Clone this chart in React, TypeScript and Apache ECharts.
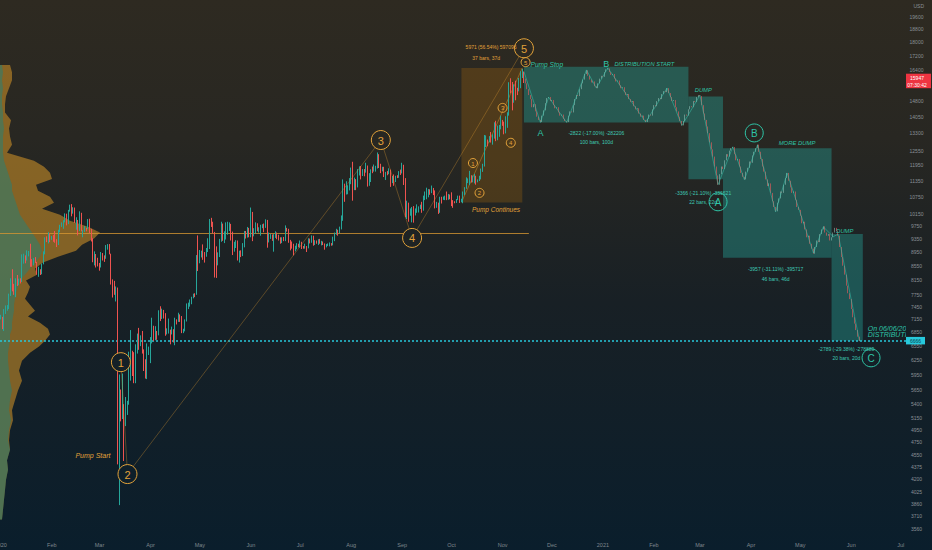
import React, { useEffect, useRef } from "react";
import * as echarts from "echarts";

// ---------- real daily candles [close, low, high]; open = previous close ----------
const openingPrice = 7190;
const jan2020 = [[7200,7150,7260],[6985,6920,7210],[7345,6880,7400],[7410,7280,7490],[7410,7360,7500],[7770,7400,7790],[8160,7730,8200],[8045,7850,8450],[7820,7760,8050],[8200,7700,8200],[8020,7990,8290],[8180,8010,8190],[8110,8060,8200],[8810,8100,8880],[8820,8610,8900],[8720,8620,8850],[8910,8700,9000],[8920,8820,8980],[8710,8520,9200],[8660,8520,8740],[8750,8560,8770],[8660,8630,8800],[8390,8300,8660],[8440,8240,8520],[8340,8290,8450],[8600,8310,8610],[8900,8590,8970],[9390,8880,9400],[9290,9250,9430],[9510,9210,9560],[9350,9250,9530]];
const feb2020 = [[9390,9320,9440],[9340,9260,9470],[9290,9230,9600],[9180,9100,9340],[9620,9160,9640],[9750,9560,9800],[9810,9730,9880],[9910,9670,9950],[10170,9880,10180],[9860,9780,10170],[10270,9820,10300],[10360,10240,10480],[10240,10080,10500],[10370,10170,10390],[9900,9860,10380],[9930,9640,10050],[9700,9460,9960],[10180,9600,10250],[9600,9590,10200],[9610,9400,9630],[9690,9570,9760],[9670,9590,9700],[9970,9660,9990],[9660,9530,10000],[9320,9270,9670],[8790,8650,9370],[8790,8560,8970],[8670,8500,8890],[8540,8530,8780]];
const mar2020 = [[8530,8410,8630],[8920,8500,8950],[8760,8700,8920],[8750,8660,8850],[9080,8760,9160],[9150,9020,9190],[8890,8880,9190],[8040,8030,8900],[7930,7690,8170],[7910,7760,8130],[7910,7590,7980],[4970,4410,7950],[5560,3850,5950],[5200,5090,5660],[5390,5130,5970],[5010,4460,5380],[5330,5010,5520],[5400,5200,5450],[6190,5380,6420],[6200,5830,6900],[6190,5920,6440],[5830,5780,6410],[6420,5780,6580],[6740,6380,6820],[6680,6460,6950],[6730,6540,6780],[6470,6380,6880],[6240,6020,6290],[5880,5870,6260],[6390,5860,6600],[6440,6350,6530]];
const apr2020 = [[6640,6180,6740],[6800,6600,7190],[6740,6650,7000],[6860,6670,6990],[6780,6680,6880],[7340,6780,7370],[7200,7110,7470],[7370,7160,7410],[7300,7170,7380],[6860,6770,7300],[6890,6800,6940],[6910,6820,7170],[6860,6580,6910],[6880,6800,6980],[6640,6620,6920],[7120,6560,7190],[7100,7030,7150],[7260,7090,7310],[7130,7090,7270],[6860,6830,7230],[6880,6830,6930],[7120,6870,7150],[7480,7100,7540],[7510,7400,7560],[7540,7460,7640],[7700,7520,7710],[7790,7670,7790],[7760,7700,7800],[8780,7760,8860],[8620,8400,9460]];
const may2020 = [[8830,8620,9010],[8970,8790,8990],[8900,8720,9180],[8880,8640,8950],[9030,8810,9070],[9150,8950,9370],[9990,9040,9990],[9810,9730,10030],[9540,9520,9900],[8730,8220,9570],[8560,8210,9120],[8820,8560,8940],[9310,8800,9350],[9790,9260,9900],[9320,9290,9840],[9380,9220,9590],[9680,9330,9880],[9730,9480,9900],[9780,9600,9880],[9520,9300,9830],[9080,8860,9580],[9170,8960,9260],[9180,9070,9310],[8720,8700,9300],[8900,8640,8990],[8840,8800,9000],[9200,8830,9220],[9580,9090,9600],[9430,9360,9600],[9700,9390,9730],[9450,9400,9700]];
const jun2020 = [[10200,9400,10380],[9520,9280,10230],[9660,9430,9690],[9790,9520,9880],[9620,9590,9850],[9670,9550,9720],[9750,9450,9800],[9780,9690,9820],[9770,9560,9840],[9880,9700,9980],[9270,9080,9960],[9470,9240,9550],[9480,9350,9500],[9390,9290,9490],[9430,8960,9500],[9520,9380,9590],[9460,9340,9550],[9380,9300,9480],[9300,9200,9400],[9360,9220,9400],[9290,9280,9410],[9690,9280,9780],[9630,9580,9700],[9300,9230,9670],[9250,9000,9320],[9160,9050,9270],[9010,8850,9200],[9120,8970,9140],[9190,9030,9220],[9140,9090,9200]];
const jul2020 = [[9230,9080,9300],[9090,9040,9260],[9060,9050,9130],[9130,9050,9200],[9080,8950,9130],[9340,9060,9370],[9250,9210,9360],[9430,9230,9460],[9240,9140,9450],[9290,9160,9310],[9240,9200,9300],[9300,9160,9340],[9240,9200,9350],[9250,9150,9290],[9200,9160,9270],[9130,9020,9210],[9150,9090,9190],[9170,9130,9210],[9210,9120,9240],[9160,9140,9220],[9390,9150,9420],[9540,9280,9550],[9610,9480,9670],[9550,9450,9640],[9710,9530,9740],[9930,9650,10110],[11030,9930,11400],[10940,10580,11240],[11100,10840,11330],[11110,10850,11180],[11350,10990,11450]];
const aug2020 = [[11800,11220,11860],[11070,10620,12090],[11230,11000,11470],[11190,11000,11410],[11750,11100,11800],[11770,11550,11910],[11600,11400,11920],[11760,11530,11800],[11680,11520,11800],[11880,11660,12050],[11400,11130,11940],[11580,11160,11640],[11780,11300,11790],[11770,11640,11900],[11870,11700,11980],[11910,11700,11930],[12300,11820,12470],[11950,11840,12400],[11760,11640,12010],[11870,11710,11890],[11520,11490,11890],[11680,11380,11690],[11650,11560,11720],[11770,11600,11830],[11350,11120,11780],[11470,11260,11530],[11330,11160,11590],[11530,11300,11540],[11470,11450,11560],[11710,11460,11720],[11680,11570,11780]];
const sep2020 = [[11970,11630,12050],[11410,11190,11970],[10170,10050,11450],[10470,9990,10620],[10170,9900,10550],[10270,10100,10350],[10370,9880,10400],[10130,9870,10430],[10230,10110,10350],[10370,10200,10490],[10400,10210,10420],[10440,10330,10480],[10330,10200,10580],[10680,10270,10800],[10790,10640,10950],[10950,10670,11090],[10950,10740,11040],[10930,10830,11030],[11080,10890,11170],[10920,10820,11050],[10420,10350,10990],[10540,10370,10580],[10240,10160,10550],[10740,10200,10760],[10690,10520,10760],[10730,10650,10770],[10770,10640,10800],[10690,10640,10950],[10840,10650,10860],[10780,10670,10840]];
const oct2020 = [[10620,10430,10920],[10570,10370,10640],[10550,10530,10600],[10670,10540,10680],[10790,10640,10800],[10600,10540,10800],[10670,10570,10690],[10920,10530,10950],[11060,10820,11110],[11300,11050,11480],[11380,11260,11440],[11540,11190,11730],[11430,11280,11560],[11430,11290,11550],[11500,11250,11610],[11320,11200,11540],[11370,11290,11400],[11510,11340,11540],[11750,11400,11820],[11920,11690,12010],[12820,11900,13220],[12970,12700,13200],[12930,12730,13020],[13130,12900,13170],[13030,12890,13350],[13070,12800,13250],[13650,13060,13790],[13270,12950,13860],[13460,12990,13640],[13560,13140,13670],[13800,13470,14100]];
const nov2020 = [[13760,13630,13900],[13550,13250,13820],[14030,13290,14070],[14160,13540,14260],[15590,14100,15760],[15580,15190,15970],[14840,14350,15770],[15480,14720,15650],[15330,14840,15840],[15300,15100,15470],[15700,15290,15990],[16300,15450,16350],[16330,15980,16480],[15950,15720,16330]];
const realMonths: [number, number, number[][]][] = [
  [2020, 1, jan2020], [2020, 2, feb2020], [2020, 3, mar2020], [2020, 4, apr2020],
  [2020, 5, may2020], [2020, 6, jun2020], [2020, 7, jul2020], [2020, 8, aug2020],
  [2020, 9, sep2020], [2020, 10, oct2020], [2020, 11, nov2020],
];

// ---------- projected ("ghost") daily closes ----------
const projNov2020 = [15700,15400,15100,14900,14500,14650,14300,14050,13900,13800,14100,14350,14700,14950,15000,14800];
const projDec2020 = [14850,14600,14450,14500,14250,14100,14150,13950,13850,13800,14100,14300,14250,14600,14900,15100,15050,15400,15700,15900,16200,16400,16100,15900,15750,15800,15550,15450,15700,15950,16100];
const projJan2021 = [16050,16300,16450,16500,16300,16150,16200,15950,15800,15850,15600,15450,15500,15250,15100,15150,14900,14750,14800,14550,14400,14450,14200,14050,14100,13900,13800,13950,14150,14100,14400];
const projFeb2021 = [14600,14550,14800,14950,14900,15150,15300,15250,15450,15200,15000,14800,14850,14500,14300,14050,13850,13650,13850,14150,14100,14400,14550,14500,14800,14750,15000,15100];
const projMar2021 = [15050,14600,14200,13900,13600,13300,12900,12600,12300,11900,11550,11200,11600,11900,11800,12150,12400,12300,12550,12650,12700,12400,12150,12200,11900,11650,11500,11400,11700,11850,12100];
const projApr2021 = [12050,12350,12500,12650,12800,12500,12200,11900,11700,11400,11150,11250,10900,10600,10400,10250,10550,10700,10950,10900,11200,11450,11650,11350,11100,10900,10950,10650,10400,10300];
const projMay2021 = [10100,9850,9900,9650,9400,9450,9200,9050,8900,9100,9300,9250,9500,9650,9750,9550,9450,9500,9300,9400,9550,9700,9600,9450,9100,8800,8550,8300,8000,7800,7650];
const projJun2021 = [7400,7200,7050,6900,6750,6650];
const projMonths: [number, number, number, number[]][] = [
  [2020, 11, 15, projNov2020], [2020, 12, 1, projDec2020], [2021, 1, 1, projJan2021],
  [2021, 2, 1, projFeb2021], [2021, 3, 1, projMar2021], [2021, 4, 1, projApr2021],
  [2021, 5, 1, projMay2021], [2021, 6, 1, projJun2021],
];

// ---------- price scale ----------
const priceTicks = [19600,18800,18000,17200,16400,14800,14050,13300,12550,11950,11350,10750,10150,9750,9350,8950,8550,8150,7750,7450,7150,6850,6550,6250,5950,5650,5400,5150,4950,4750,4550,4375,4200,4025,3860,3710,3560];
const currencyLabel = "USD";
const lastPrice = 15947;
const lastPriceTimer = "07:30:42";
const markPrice = 6666;

// ---------- drawings ----------
const hLevelPrice = 9520;
const hLevelEnd = "2020-11-17";

const waveLabels = ["1", "2", "3", "4", "5"];
const waveDates = ["2020-03-14", "2020-03-18", "2020-08-19", "2020-09-07", "2020-11-14"];
const wavePrices = [6200, 4270, 13000, 9380, 17650];

const subWaveLabels = ["1", "2", "3", "4", "5"];
const subWaveDates = ["2020-10-14", "2020-10-18", "2020-11-01", "2020-11-06", "2020-11-15"];
const subWavePrices = [12040, 10900, 14470, 12880, 16850];

const abcLabels = ["A", "B", "C"];
const abcDates = ["2021-03-12", "2021-04-03", "2021-06-13"];
const abcPrices = [10580, 13310, 6290];

const letterLabels = ["A", "B"];
const letterDates = ["2020-11-24", "2021-01-03"];
const letterPrices = [13310, 16740];

const pathDates = ["2020-11-14","2020-11-24","2020-11-29","2020-12-10","2020-12-22","2020-12-28","2021-01-04","2021-01-27","2021-02-09","2021-02-18","2021-03-01","2021-03-12","2021-03-21","2021-03-28","2021-04-05","2021-04-16","2021-04-23","2021-05-09","2021-05-15","2021-05-21","2021-05-24","2021-06-06"];
const pathPrices = [16330,13780,14990,13780,16420,15460,16530,13800,15460,13640,15090,11200,12710,11390,12790,10230,11640,8920,9730,9420,9500,6650];

const boxStart = ["2020-10-07", "2020-11-14", "2021-02-22", "2021-03-15", "2021-05-20"];
const boxEnd = ["2020-11-13", "2021-02-22", "2021-03-15", "2021-05-20", "2021-06-08"];
const boxLow = [10560, 13780, 11410, 8780, 6660];
const boxHigh = [16531, 16600, 15030, 12650, 9500];

const annoTexts = ["Pump Start", "Pump Continues", "Pump Stop", "DISTRIBUTION START", "DUMP", "MORE DUMP", "DUMP", "On 06/06/2021", "DISTRIBUTION"];
const annoDates = ["2020-02-26", "2020-10-28", "2020-11-18", "2021-01-08", "2021-03-03", "2021-04-29", "2021-05-28", "2021-06-11", "2021-06-11"];
const annoPrices = [4540, 10300, 16740, 16740, 15360, 12880, 9610, 6930, 6790];

const measureTexts = ["5971 (56.54%) 597096", "37 bars, 37d", "-2822 (-17.00%) -282206", "100 bars, 100d", "-3366 (-21.10%) -336621", "22 bars, 22d", "-3957 (-31.11%) -395717", "46 bars, 46d", "-2789 (-29.38%) -278889", "20 bars, 20d"];
const measureDates = ["2020-10-25", "2020-10-22", "2020-12-28", "2020-12-28", "2021-03-03", "2021-03-03", "2021-04-16", "2021-04-16", "2021-05-29", "2021-05-29"];
const measurePrices = [17700, 17060, 13310, 12920, 10900, 10580, 8450, 8180, 6470, 6290];

// ---------- volume profile (price row, teal part, orange part) ----------
const profilePrices = [16690,16300,15870,15450,15040,14640,14250,13880,13510,13150,12800,12460,12130,11890,11660,11420,11200,10980,10760,10550,10340,10130,9930,9740,9550,9360,9170,8990,8810,8640,8470,8300,8140,7970,7820,7660,7510,7360,7220,7070,6930,6800,6660,6530,6400,6230,6030,5830,5640,5460,5280,5110,4940,4780,4630,4470,4330,4190,4050,3920,3790,3670];
const profileTeal = [2,3,2,3,2,2,3,3,4,3,3,3,4,6,8,10,12,12,14,16,18,20,24,28,32,36,40,42,40,35,30,25,20,18,16,15,14,14,13,12,12,10,10,9,8,8,9,10,12,10,9,11,9,8,10,7,8,6,5,4,3,2];
const profileOrange = [8,9,10,6,4,3,2,8,5,7,9,4,30,38,42,42,24,26,36,38,24,40,46,60,68,58,42,34,18,8,5,12,6,12,12,10,16,21,15,28,36,40,35,30,22,14,10,12,6,5,3,2,1,1,0,0,0,0,0,0,0,0];

// ---------- styling ----------
const FONT = "'Liberation Sans', Arial, sans-serif";
const ORANGE = "#e2a23a";
const TEAL = "#2ec4a6";
const UP = "#26a69a";
const DOWN = "#ef5350";
const BG_STOPS: [number, number[]][] = [[0, [46, 42, 33]], [0.25, [40, 39, 34]], [0.55, [24, 32, 37]], [1, [10, 30, 44]]];

function bgAt(y: number, h: number): string {
  const t = Math.max(0, Math.min(1, y / h));
  for (let i = 0; i < BG_STOPS.length - 1; i++) {
    const [a, ca] = BG_STOPS[i];
    const [b, cb] = BG_STOPS[i + 1];
    if (t >= a && t <= b) {
      const k = (t - a) / (b - a);
      const c = ca.map((v, j) => Math.round(v + (cb[j] - v) * k));
      return `rgb(${c[0]},${c[1]},${c[2]})`;
    }
  }
  return "rgb(10,30,44)";
}
const cssBg = `linear-gradient(to bottom, ${BG_STOPS.map(([p, c]) => `rgb(${c.join(",")}) ${p * 100}%`).join(", ")})`;

const ts = (s: string) => {
  const [y, m, d] = s.split("-").map(Number);
  return new Date(y, m - 1, d).getTime();
};

function buildReal() {
  const out: number[][] = [];
  let prev = openingPrice;
  realMonths.forEach(([y, m, rows]) => {
    rows.forEach((r, i) => {
      const [c, l, h] = r;
      out.push([new Date(y, m - 1, i + 1).getTime(), prev, c, Math.min(l, prev, c), Math.max(h, prev, c)]);
      prev = c;
    });
  });
  return out;
}

function buildProjection(startOpen: number) {
  const out: number[][] = [];
  let prev = startOpen;
  projMonths.forEach(([y, m, d0, closes]) => {
    closes.forEach((c, i) => {
      out.push([new Date(y, m - 1, d0 + i).getTime(), prev, c, Math.min(prev, c), Math.max(prev, c)]);
      prev = c;
    });
  });
  return out;
}

const X_MIN = new Date(2019, 11, 31, 12).getTime();
const X_MAX = new Date(2021, 6, 4, 6).getTime();

function circleSeries(labels: string[], dates: string[], prices: number[], r: number, fs: number, color: string, filled: boolean) {
  return {
    type: "custom",
    xAxisIndex: 0,
    yAxisIndex: 0,
    z: 10,
    silent: true,
    encode: { x: 0, y: 1 },
    data: dates.map((d, i) => [ts(d), prices[i]]),
    renderItem: (params: any, api: any) => {
      const p = api.coord([api.value(0), api.value(1)]);
      return {
        type: "group",
        children: [
          { type: "circle", shape: { cx: p[0], cy: p[1], r }, style: { fill: filled ? bgAt(p[1], api.getHeight()) : "rgba(0,0,0,0)", stroke: color, lineWidth: 1 } },
          { type: "text", x: p[0], y: p[1] + 0.5, style: { text: labels[params.dataIndex], fill: color, fontSize: fs, fontFamily: FONT, align: "center", verticalAlign: "middle" } },
        ],
      };
    },
  };
}

const annoStyle = [
  { color: ORANGE, size: 7, align: "center" },
  { color: ORANGE, size: 6.5, align: "center" },
  { color: TEAL, size: 6.6, align: "left" },
  { color: TEAL, size: 5.7, align: "left" },
  { color: TEAL, size: 5.8, align: "center" },
  { color: TEAL, size: 5.9, align: "center" },
  { color: TEAL, size: 5.8, align: "center" },
  { color: TEAL, size: 7, align: "left" },
  { color: TEAL, size: 7, align: "left" },
];

export default function App() {
  const ref = useRef<HTMLDivElement>(null);
  useEffect(() => {
    if (!ref.current) return;
    const chart = echarts.init(ref.current, undefined, { renderer: "svg" });
    const real = buildReal();
    const proj = buildProjection(real[real.length - 1][2]);

    const option: any = {
      animation: false,
      backgroundColor: "transparent",
      grid: { left: 0, right: 26, top: 0, bottom: 13, containLabel: false, outerBoundsMode: "none" },
      xAxis: [
        {
          type: "time",
          min: X_MIN,
          max: X_MAX,
          splitNumber: 18,
          minInterval: 28 * 86400000,
          maxInterval: 31 * 86400000,
          axisLine: { show: false },
          axisTick: { show: false },
          splitLine: { show: false },
          axisLabel: {
            color: "#7f878d",
            fontSize: 5.5,
            fontFamily: FONT,
            margin: 5,
            hideOverlap: false,
            formatter: { year: "{yyyy}", month: "{MMM}", day: "" },
          },
        },
        { type: "value", min: 0, max: 906, show: false },
      ],
      yAxis: [
        { type: "log", min: 3462, max: 20730, show: false, splitLine: { show: false } },
      ],
      series: [
        // volume profile
        {
          type: "custom",
          xAxisIndex: 1,
          yAxisIndex: 0,
          z: 1,
          silent: true,
          encode: { x: 0, y: 1 },
          data: [[0, profilePrices[0]]],
          renderItem: (params: any, api: any) => {
            const top = profilePrices[0];
            const bottom = profilePrices[profilePrices.length - 1];
            const orangePts = [api.coord([0, top])]
              .concat(profilePrices.map((p, i) => api.coord([profileTeal[i] + profileOrange[i], p])))
              .concat([api.coord([0, bottom])]);
            const tealPts = [api.coord([0, top])]
              .concat(profilePrices.map((p, i) => api.coord([profileTeal[i], p])))
              .concat([api.coord([0, bottom])]);
            return {
              type: "group",
              children: [
                { type: "polygon", shape: { points: orangePts }, style: { fill: "rgba(205,145,40,0.58)" } },
                { type: "polygon", shape: { points: tealPts }, style: { fill: "rgba(34,130,122,0.5)" } },
              ],
            };
          },
        },
        // boxes
        {
          type: "custom",
          xAxisIndex: 0,
          yAxisIndex: 0,
          z: 2,
          silent: true,
          encode: { x: [0, 2], y: [1, 3] },
          data: boxStart.map((s, i) => [ts(s), boxLow[i], ts(boxEnd[i]), boxHigh[i]]),
          renderItem: (params: any, api: any) => {
            const a = api.coord([api.value(0), api.value(3)]);
            const b = api.coord([api.value(2), api.value(1)]);
            const i = params.dataIndex;
            return {
              type: "rect",
              shape: { x: a[0], y: a[1], width: b[0] - a[0], height: b[1] - a[1] },
              style: { fill: i === 0 ? "rgba(255,152,0,0.18)" : "rgba(38,166,154,0.40)" },
            };
          },
        },
        // horizontal level
        {
          type: "line",
          z: 3,
          silent: true,
          showSymbol: false,
          data: [[X_MIN, hLevelPrice], [ts(hLevelEnd), hLevelPrice]],
          lineStyle: { color: "rgba(214,150,50,0.8)", width: 1 },
        },
        // pump box diagonal
        {
          type: "line",
          z: 3,
          silent: true,
          showSymbol: false,
          data: [[ts(boxStart[0]), boxLow[0]], [ts(boxEnd[0]), boxHigh[0]]],
          lineStyle: { color: "rgba(214,150,50,0.45)", width: 1 },
        },
        // real candles
        {
          type: "candlestick",
          z: 5,
          silent: true,
          barWidth: 1,
          encode: { x: 0, y: [1, 2, 3, 4] },
          data: real,
          itemStyle: { color: UP, color0: DOWN, borderColor: UP, borderColor0: DOWN, borderWidth: 1 },
          markLine: {
            silent: true,
            symbol: "none",
            label: { show: false },
            lineStyle: { color: "#29c7da", type: [2, 2], width: 1.5 },
            data: [{ yAxis: markPrice }],
          },
        },
        // projected candles
        {
          type: "candlestick",
          z: 5,
          silent: true,
          barWidth: 1,
          encode: { x: 0, y: [1, 2, 3, 4] },
          data: proj,
          itemStyle: {
            color: "rgba(150,200,190,0.55)",
            color0: "rgba(226,90,90,0.65)",
            borderColor: "rgba(150,200,190,0.55)",
            borderColor0: "rgba(226,90,90,0.65)",
            borderWidth: 1,
          },
        },
        // projected path
        {
          type: "line",
          z: 6,
          silent: true,
          showSymbol: false,
          data: pathDates.map((d, i) => [ts(d), pathPrices[i]]),
          lineStyle: { color: "rgba(60,200,175,0.5)", width: 1 },
        },
        // impulse wave line
        {
          type: "line",
          z: 6,
          silent: true,
          showSymbol: false,
          data: waveDates.map((d, i) => [ts(d), wavePrices[i]]),
          lineStyle: { color: "rgba(214,150,50,0.35)", width: 1 },
        },
        circleSeries(waveLabels, waveDates, wavePrices, 9.5, 11, ORANGE, true),
        circleSeries(subWaveLabels, subWaveDates, subWavePrices, 4.5, 6, ORANGE, false),
        circleSeries(abcLabels, abcDates, abcPrices, 9, 10, TEAL, false),
        // plain letters
        {
          type: "custom",
          z: 11,
          silent: true,
          encode: { x: 0, y: 1 },
          data: letterDates.map((d, i) => [ts(d), letterPrices[i]]),
          renderItem: (params: any, api: any) => {
            const p = api.coord([api.value(0), api.value(1)]);
            return { type: "text", x: p[0], y: p[1], style: { text: letterLabels[params.dataIndex], fill: TEAL, fontSize: 9, fontFamily: FONT, align: "center", verticalAlign: "middle" } };
          },
        },
        // annotations
        {
          type: "custom",
          z: 11,
          silent: true,
          clip: true,
          encode: { x: 0, y: 1 },
          data: annoDates.map((d, i) => [ts(d), annoPrices[i]]),
          renderItem: (params: any, api: any) => {
            const i = params.dataIndex;
            const p = api.coord([api.value(0), api.value(1)]);
            const s = annoStyle[i];
            return { type: "text", x: p[0], y: p[1], style: { text: annoTexts[i], fill: s.color, fontSize: s.size, fontStyle: "italic", fontFamily: FONT, align: s.align, verticalAlign: "middle" } };
          },
        },
        // measurement texts
        {
          type: "custom",
          z: 11,
          silent: true,
          clip: true,
          encode: { x: 0, y: 1 },
          data: measureDates.map((d, i) => [ts(d), measurePrices[i]]),
          renderItem: (params: any, api: any) => {
            const i = params.dataIndex;
            const p = api.coord([api.value(0), api.value(1)]);
            return { type: "text", x: p[0], y: p[1], style: { text: measureTexts[i], fill: i < 2 ? ORANGE : "#3fc9b4", fontSize: 5, fontFamily: FONT, align: "center", verticalAlign: "middle" } };
          },
        },
        // price scale labels
        {
          type: "custom",
          z: 12,
          silent: true,
          encode: { x: 0, y: 1 },
          data: priceTicks.map((v) => [X_MIN, v]),
          renderItem: (params: any, api: any) => {
            const cs = params.coordSys;
            const y = api.coord([api.value(0), api.value(1)])[1];
            return { type: "text", x: cs.x + cs.width + 10.5, y, style: { text: String(priceTicks[params.dataIndex]), fill: "#8a9096", fontSize: 5, fontFamily: FONT, align: "center", verticalAlign: "middle" } };
          },
        },
        // last price + mark price tags
        {
          type: "custom",
          z: 13,
          silent: true,
          encode: { x: 0, y: 1 },
          data: [[X_MIN, lastPrice], [X_MIN, markPrice]],
          renderItem: (params: any, api: any) => {
            const cs = params.coordSys;
            const y = api.coord([api.value(0), api.value(1)])[1];
            const x0 = cs.x + cs.width;
            if (params.dataIndex === 0) {
              return {
                type: "group",
                children: [
                  { type: "rect", shape: { x: x0, y: y - 5, width: 25, height: 14.5 }, style: { fill: "#ee3441" } },
                  { type: "text", x: x0 + 11, y: y - 0.5, style: { text: String(lastPrice), fill: "#ffffff", fontSize: 5, fontFamily: FONT, align: "center", verticalAlign: "middle" } },
                  { type: "text", x: x0 + 11, y: y + 6, style: { text: lastPriceTimer, fill: "#ffffff", fontSize: 5, fontFamily: FONT, align: "center", verticalAlign: "middle" } },
                ],
              };
            }
            return {
              type: "group",
              children: [
                { type: "rect", shape: { x: x0, y: y - 3.5, width: 19, height: 7.5 }, style: { fill: "#27c9dc" } },
                { type: "text", x: x0 + 9.5, y: y + 0.2, style: { text: String(markPrice), fill: "#0c3f4a", fontSize: 5, fontFamily: FONT, align: "center", verticalAlign: "middle" } },
              ],
            };
          },
        },
      ],
      graphic: [
        { type: "text", right: 8, top: 3, style: { text: currencyLabel, fill: "#8a9096", fontSize: 5, fontFamily: FONT } },
      ],
    };
    chart.setOption(option);
    return () => chart.dispose();
  }, []);
  return (
    <div
      ref={ref}
      style={{ position: "fixed", left: 0, top: 0, width: 932, height: 550, background: cssBg }}
    />
  );
}
